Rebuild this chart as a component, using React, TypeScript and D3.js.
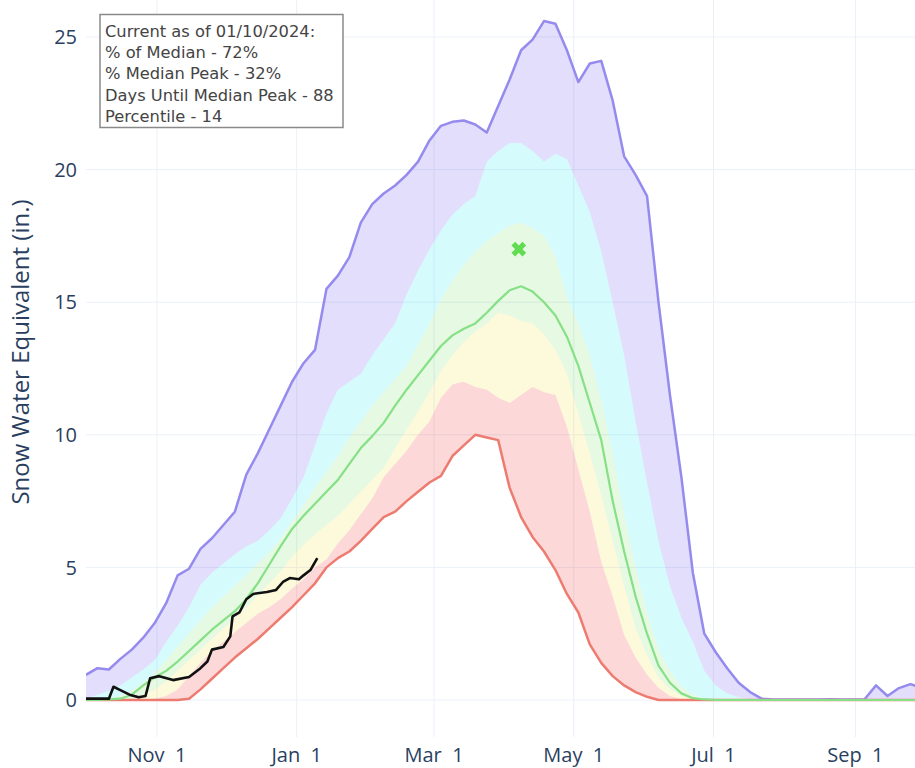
import React from "react";
import * as d3 from "d3";

// ---- data (inches of SWE), sampled every 5 days from Oct 1 of the water year ----
const DAY_OFFSETS = [
  0, 5, 10, 15, 20, 25, 30, 35, 40, 45,
  50, 55, 60, 65, 70, 75, 80, 85, 90, 95,
  100, 105, 110, 115, 120, 125, 130, 135, 140, 145,
  150, 155, 160, 165, 170, 175, 180, 185, 190, 195,
  200, 205, 210, 215, 220, 225, 230, 235, 240, 245,
  250, 255, 260, 265, 270, 275, 280, 285, 290, 295,
  300, 305, 310, 315, 320, 325, 330, 335, 340, 345,
  350, 355, 360, 365,
];

const SWE_MAX = [
  0.95, 1.2, 1.15, 1.55, 1.9, 2.35, 2.9, 3.65, 4.7, 4.95,
  5.7, 6.1, 6.6, 7.1, 8.5, 9.3, 10.2, 11.1, 12.0, 12.7,
  13.2, 15.5, 16.0, 16.7, 18.0, 18.7, 19.1, 19.4, 19.8, 20.3,
  21.1, 21.65, 21.8, 21.85, 21.7, 21.4, 22.4, 23.4, 24.5, 24.9,
  25.6, 25.5, 24.5, 23.3, 24.0, 24.1, 22.6, 20.5, 19.8, 19.0,
  15.0, 11.5, 8.4, 4.8, 2.5, 1.8, 1.2, 0.65, 0.3, 0.05,
  0.02, 0.02, 0.02, 0.02, 0.02, 0.03, 0.02, 0.02, 0.03, 0.55,
  0.15, 0.45, 0.6, 0.45,
];

const SWE_P90 = [
  0.05, 0.2, 0.35, 0.55, 0.85, 1.15, 1.5, 2.2, 2.8, 3.5,
  4.35, 4.8, 5.15, 5.5, 5.8, 6.0, 6.4, 6.85, 7.6, 8.4,
  9.6, 10.8, 11.7, 12.0, 12.3, 13.0, 13.6, 14.2, 15.3, 16.2,
  17.0, 17.7, 18.3, 18.7, 19.0, 20.3, 20.7, 21.0, 21.0, 20.7,
  20.3, 20.6, 20.4, 19.4, 18.4, 16.9, 15.0, 13.0, 10.5, 8.2,
  6.0, 4.3, 3.1, 2.2, 1.1, 0.55, 0.25, 0.1, 0.03, 0,
  0, 0, 0, 0, 0, 0, 0, 0, 0, 0,
  0, 0, 0, 0,
];

const SWE_P70 = [
  0, 0, 0.05, 0.15, 0.35, 0.65, 1.0, 1.5, 2.0, 2.5,
  3.0, 3.5, 3.9, 4.3, 4.7, 5.15, 5.55, 6.1, 6.75, 7.35,
  8.0, 8.6, 9.2, 9.9, 10.5, 11.1, 11.6, 12.1, 12.6, 13.4,
  14.2, 15.1, 15.8, 16.4, 16.9, 17.3, 17.6, 17.9, 18.0, 17.8,
  17.5, 16.7, 15.2, 14.2, 13.0, 11.3, 9.3, 7.0, 5.0, 3.3,
  1.9, 1.1, 0.5, 0.2, 0.05, 0, 0, 0, 0, 0,
  0, 0, 0, 0, 0, 0, 0, 0, 0, 0,
  0, 0, 0, 0,
];

const SWE_MEDIAN = [
  0, 0, 0.02, 0.05, 0.2, 0.55, 0.85, 1.1, 1.45, 1.85,
  2.25, 2.65, 3.0, 3.35, 3.8, 4.4, 5.1, 5.8, 6.45, 6.95,
  7.4, 7.85, 8.3, 8.9, 9.5, 9.95, 10.45, 11.1, 11.7, 12.25,
  12.8, 13.35, 13.75, 14.0, 14.2, 14.6, 15.05, 15.45, 15.6, 15.4,
  15.0, 14.5, 13.7, 12.6, 11.2, 9.8, 7.5, 5.6, 3.9, 2.5,
  1.3, 0.65, 0.25, 0.07, 0.02, 0, 0, 0, 0, 0,
  0, 0, 0, 0, 0, 0, 0, 0, 0, 0,
  0, 0, 0, 0,
];

const SWE_P30 = [
  0, 0, 0, 0.02, 0.05, 0.2, 0.4, 0.7, 1.1, 1.5,
  1.9, 2.3, 2.7, 3.1, 3.5, 3.95, 4.4, 4.85, 5.4, 5.85,
  6.25, 6.6, 6.95, 7.4, 7.85, 8.3, 8.75, 9.5, 10.2, 10.9,
  11.6, 12.4, 13.0, 13.5, 13.9, 14.2, 14.6, 14.5, 14.3, 14.2,
  13.8, 13.2, 12.3, 10.8, 9.3, 7.7, 6.0, 4.3, 2.7, 1.7,
  0.85, 0.4, 0.15, 0.05, 0, 0, 0, 0, 0, 0,
  0, 0, 0, 0, 0, 0, 0, 0, 0, 0,
  0, 0, 0, 0,
];

const SWE_P10 = [
  0, 0, 0, 0, 0, 0.02, 0.05, 0.15, 0.4, 0.9,
  1.4, 1.85, 2.2, 2.55, 2.9, 3.25, 3.5, 3.8, 4.2, 4.55,
  5.0, 5.3, 5.9, 6.4, 7.0, 7.6, 8.4, 8.9, 9.4, 10.0,
  10.5, 11.4, 11.9, 12.0, 11.8, 11.7, 11.4, 11.2, 11.5, 11.8,
  11.6, 11.5, 10.3, 8.7, 7.1, 5.2, 3.9, 2.45, 1.6, 0.95,
  0.45, 0.15, 0.03, 0, 0, 0, 0, 0, 0, 0,
  0, 0, 0, 0, 0, 0, 0, 0, 0, 0,
  0, 0, 0, 0,
];

const SWE_MIN = [
  0, 0, 0, 0, 0, 0, 0, 0, 0, 0.05,
  0.4, 0.8, 1.2, 1.6, 1.95, 2.3, 2.7, 3.1, 3.5, 3.95,
  4.4, 5.0, 5.35, 5.6, 6.0, 6.45, 6.9, 7.1, 7.5, 7.85,
  8.2, 8.45, 9.2, 9.6, 10.0, 9.9, 9.8, 8.0, 6.9, 6.15,
  5.6, 4.9, 4.0, 3.3, 2.1, 1.4, 0.9, 0.55, 0.3, 0.12,
  0, 0, 0, 0, 0, 0, 0, 0, 0, 0,
  0, 0, 0, 0, 0, 0, 0, 0, 0, 0,
  0, 0, 0, 0,
];

// current water year (through 01/10/2024)
const CURRENT_DAYS = [0, 10, 12, 15, 19, 23, 26, 28, 32, 38, 45, 50, 53, 55, 60, 63, 64, 67, 70, 73, 79, 83, 86, 89, 93, 95, 98, 101];
const CURRENT_SWE = [0.05, 0.05, 0.5, 0.37, 0.2, 0.1, 0.15, 0.82, 0.9, 0.75, 0.87, 1.2, 1.45, 1.9, 2.0, 2.4, 3.15, 3.3, 3.8, 4.0, 4.07, 4.15, 4.45, 4.6, 4.55, 4.7, 4.9, 5.35];

const MEDIAN_PEAK_DAY = 189;
const MEDIAN_PEAK_SWE = 17.0;

const Y_TICKS = [0, 5, 10, 15, 20, 25];
const X_TICK_DAYS = [31, 92, 152, 213, 274, 336]; // Nov 1, Jan 1, Mar 1, May 1, Jul 1, Sep 1

const ANNOTATION_LINES = [
  "Current as of 01/10/2024:",
  "% of Median - 72%",
  "% Median Peak - 32%",
  "Days Until Median Peak - 88",
  "Percentile - 14",
];
const Y_TITLE = "Snow Water Equivalent (in.)";

// ---- helpers ----
const WY_START = Date.UTC(2023, 9, 1);
const toDate = (d: number) => new Date(WY_START + d * 86400000);

type Row = {
  date: Date;
  max: number;
  p90: number;
  p70: number;
  med: number;
  p30: number;
  p10: number;
  min: number;
};

export default function App() {
  const W = 915;
  const H = 768;
  const x = d3
    .scaleUtc()
    .domain([toDate(0), toDate(366)])
    .range([86, 86 + 366 * 2.29]);
  const y = d3.scaleLinear().domain([0, 25]).range([700, 37]);

  const rows: Row[] = DAY_OFFSETS.map((d, i) => ({
    date: toDate(d),
    max: SWE_MAX[i],
    p90: SWE_P90[i],
    p70: SWE_P70[i],
    med: SWE_MEDIAN[i],
    p30: SWE_P30[i],
    p10: SWE_P10[i],
    min: SWE_MIN[i],
  }));

  const band = (lo: keyof Row, hi: keyof Row) =>
    d3
      .area<Row>()
      .x((r) => x(r.date))
      .y0((r) => y(r[lo] as number))
      .y1((r) => y(r[hi] as number))(rows) || "";

  const line = (k: keyof Row) =>
    d3
      .line<Row>()
      .x((r) => x(r.date))
      .y((r) => y(r[k] as number))(rows) || "";

  const currentPath =
    d3
      .line<number>()
      .x((d) => x(toDate(d)))
      .y((_, i) => y(CURRENT_SWE[i]))(CURRENT_DAYS) || "";

  const fmt = d3.utcFormat("%b %e");
  const xTicks = X_TICK_DAYS.map((d) => toDate(d));

  const markerPath = d3.symbol(d3.symbolCross, 135)() || "";

  const tickColor = "#2a3f5f";
  const gridColor = "#ebf0f8";
  const plotLeft = 86;
  const plotRight = 86 + 366 * 2.29;
  const plotTop = -20;
  const plotBottom = 737;

  return (
    <svg
      width={W}
      height={H}
      style={{ position: "absolute", left: 0, top: 0, background: "#fff" }}
      fontFamily="'Open Sans', sans-serif"
    >
      <defs>
        <clipPath id="plotClip">
          <rect x={plotLeft} y={plotTop} width={plotRight - plotLeft} height={plotBottom - plotTop} />
        </clipPath>
      </defs>
      <rect x={0} y={0} width={W} height={H} fill="#fff" />

      {/* grid */}
      <g>
        {Y_TICKS.map((t) => (
          <line key={"gy" + t} x1={plotLeft} x2={plotRight} y1={y(t)} y2={y(t)} stroke={gridColor} strokeWidth={1} />
        ))}
        {xTicks.map((t, i) => (
          <line key={"gx" + i} x1={x(t)} x2={x(t)} y1={plotTop} y2={plotBottom} stroke={gridColor} strokeWidth={1} />
        ))}
      </g>

      {/* bands */}
      <g clipPath="url(#plotClip)">
        <path d={band("p90", "max")} fill="rgba(120,100,235,0.21)" />
        <path d={band("p70", "p90")} fill="rgba(0,230,240,0.16)" />
        <path d={band("p30", "p70")} fill="rgba(60,210,40,0.13)" />
        <path d={band("p10", "p30")} fill="rgba(240,210,0,0.14)" />
        <path d={band("min", "p10")} fill="rgba(240,60,60,0.2)" />

        <path d={line("max")} fill="none" stroke="#958bee" strokeWidth={2.5} strokeLinejoin="round" />
        <path d={line("min")} fill="none" stroke="#ee7b70" strokeWidth={2.5} strokeLinejoin="round" />
        <path d={line("med")} fill="none" stroke="#86e086" strokeWidth={2.2} strokeLinejoin="round" />
        <path d={currentPath} fill="none" stroke="#111" strokeWidth={2.6} strokeLinejoin="round" />

        <path
          d={markerPath}
          transform={`translate(${x(toDate(MEDIAN_PEAK_DAY))},${y(MEDIAN_PEAK_SWE)}) rotate(45)`}
          fill="#62dc52"
        />
      </g>

      {/* y tick labels */}
      {Y_TICKS.map((t) => (
        <text key={"ty" + t} x={77} y={y(t)} dy="0.36em" textAnchor="end" fontSize={20} fill={tickColor}>
          {t}
        </text>
      ))}

      {/* x tick labels */}
      {xTicks.map((t, i) => (
        <text
          key={"tx" + i}
          x={x(t)}
          y={762}
          textAnchor="middle"
          fontSize={20}
          fill={tickColor}
          style={{ whiteSpace: "pre" }}
        >
          {fmt(t)}
        </text>
      ))}

      {/* y title */}
      <text
        transform="translate(29,352) rotate(-90)"
        textAnchor="middle"
        fontSize={24}
        fill={tickColor}
      >
        {Y_TITLE}
      </text>

      {/* annotation */}
      <g>
        <rect x={100} y={14.5} width={243} height={113} fill="#fff" stroke="#8a8a8a" strokeWidth={1.5} />
        {ANNOTATION_LINES.map((s, i) => (
          <text
            key={"an" + i}
            x={105}
            y={36.5 + i * 21.4}
            fontFamily="'DejaVu Sans', Verdana, sans-serif"
            fontSize={16.3}
            fill="#444"
          >
            {s}
          </text>
        ))}
      </g>
    </svg>
  );
}
